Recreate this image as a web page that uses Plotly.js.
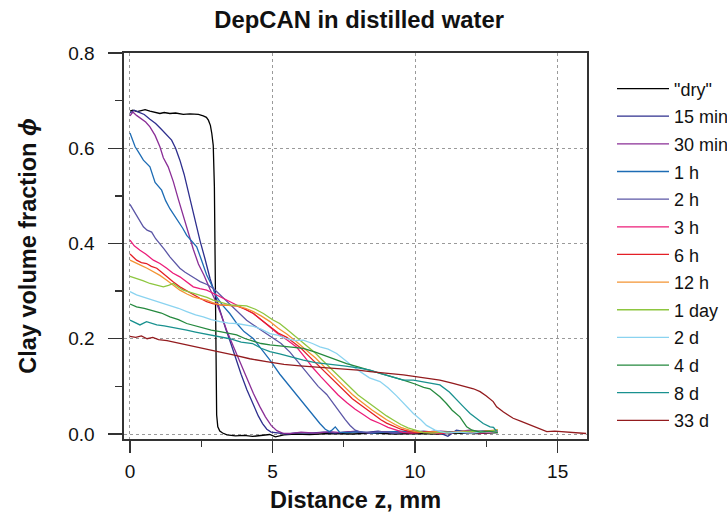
<!DOCTYPE html>
<html>
<head>
<meta charset="utf-8">
<script src="https://cdn.plot.ly/plotly-3.0.1.min.js"></script>
<style>html,body{margin:0;padding:0;background:#fff;}#chart{width:727px;height:513px;}</style>
</head>
<body>
<div id="chart"></div>
<script>
// ---- Data ----
var seriesNames = ['"dry"', '15 min', '30 min', '1 h', '2 h', '3 h', '6 h', '12 h', '1 day', '2 d', '4 d', '8 d', '33 d'];
var seriesColors = ['#000000', '#2e2f8e', '#8a2e96', '#1d6cb4', '#5b56a6', '#ec1c79', '#e41f26', '#f39433', '#8dc63f', '#8ad3f0', '#25893e', '#19918f', '#931b1e'];

var xDry = [0,0.1,0.25,0.4,0.53,0.7,0.85,1.05,1.2,1.4,1.6,1.87,2.1,2.4,2.57,2.68,2.75,2.82,2.87,2.92,2.96,2.99,3.01,3.04,3.08,3.15,3.25,3.4,3.7,4.0,4.3,4.6,4.9,5.1,5.4,5.8,6.3,7.0,7.8,8.5,9.3,10.0,10.8,11.5,12.2,12.9];
var yDry = [0.678,0.68,0.677,0.679,0.681,0.678,0.676,0.673,0.675,0.673,0.674,0.671,0.672,0.671,0.668,0.665,0.659,0.648,0.631,0.606,0.52,0.35,0.15,0.04,0.015,0.006,0.002,-0.002,-0.004,-0.003,-0.005,-0.003,-0.001,-0.006,-0.002,0.0,-0.001,0.001,0.0,0.002,0.0,0.001,0.0,0.002,0.001,0.003];

var x15m = [0,0.15,0.3,0.5,0.7,0.9,1.1,1.3,1.46,1.6,1.75,1.9,2.03,2.16,2.3,2.46,2.63,2.81,3.0,3.2,3.35,3.5,3.7,3.9,4.1,4.3,4.5,4.65,4.8,4.95,5.2,5.5,5.9,6.3,6.8,7.2,7.7,8.2,8.7,9.2,9.7,10.2,10.7,11.15,11.45,11.9,12.4,12.9];
var y15m = [0.674,0.68,0.676,0.671,0.661,0.652,0.64,0.628,0.617,0.6,0.575,0.545,0.512,0.478,0.445,0.405,0.368,0.326,0.29,0.25,0.222,0.197,0.16,0.125,0.093,0.064,0.038,0.022,0.01,0.004,0.002,0.0,0.003,0.002,0.004,0.002,0.005,0.003,0.006,0.002,0.004,0.003,0.006,-0.005,0.008,0.004,0.006,0.005];

var x30m = [0,0.1,0.23,0.41,0.55,0.7,0.88,1.05,1.17,1.34,1.52,1.7,1.87,2.04,2.22,2.4,2.6,2.8,3.0,3.2,3.39,3.62,3.86,4.1,4.33,4.55,4.75,4.95,5.15,5.35,5.6,6.0,6.5,7.0,7.4,7.9,8.4,8.9,9.4,9.9,10.4,10.9,11.4,11.9,12.4,12.9];
var y30m = [0.668,0.676,0.669,0.662,0.655,0.645,0.627,0.603,0.58,0.561,0.53,0.492,0.458,0.422,0.388,0.357,0.333,0.305,0.28,0.25,0.218,0.185,0.15,0.115,0.085,0.058,0.036,0.018,0.007,0.002,0.001,0.004,0.002,0.005,0.003,0.006,0.002,0.005,0.004,0.007,0.003,0.006,0.004,0.008,0.005,0.007];

var x1h = [0,0.1,0.18,0.3,0.47,0.7,0.88,1.11,1.25,1.4,1.55,1.7,1.85,1.99,2.15,2.34,2.51,2.69,2.92,3.04,3.25,3.5,3.75,4.0,4.33,4.6,4.91,5.25,5.61,5.9,6.2,6.45,6.66,6.85,7.0,7.1,7.2,7.35,7.6,8.0,8.5,9.0,9.5,10.0,10.5,11.0,11.5,12.0,12.5,12.9];
var y1h = [0.632,0.618,0.603,0.592,0.575,0.561,0.528,0.512,0.49,0.473,0.46,0.445,0.432,0.417,0.405,0.393,0.365,0.334,0.306,0.288,0.27,0.253,0.232,0.215,0.2,0.18,0.155,0.126,0.099,0.078,0.057,0.037,0.022,0.01,0.005,0.009,0.015,0.004,0.003,0.005,0.002,0.004,0.006,0.003,0.005,0.002,0.006,0.004,0.007,0.004];

var x2h = [0,0.12,0.3,0.47,0.6,0.76,0.9,1.05,1.2,1.4,1.58,1.75,1.92,2.1,2.3,2.46,2.7,2.92,3.2,3.5,3.8,4.09,4.5,4.91,5.3,5.61,5.85,6.1,6.31,6.6,6.9,7.13,7.37,7.55,7.72,7.9,8.1,8.4,8.8,9.3,9.8,10.3,10.8,11.3,11.8,12.3,12.9];
var y2h = [0.482,0.47,0.45,0.435,0.428,0.424,0.41,0.4,0.388,0.372,0.36,0.348,0.34,0.334,0.326,0.32,0.314,0.306,0.29,0.274,0.256,0.239,0.222,0.206,0.19,0.172,0.155,0.135,0.12,0.1,0.083,0.064,0.045,0.03,0.018,0.008,0.004,0.003,0.005,0.002,0.004,0.006,0.003,0.005,0.002,0.004,0.006];

var x3h = [0,0.15,0.35,0.55,0.82,1.05,1.29,1.5,1.75,2.0,2.22,2.45,2.69,2.9,3.16,3.45,3.74,4.05,4.33,4.6,4.91,5.2,5.5,5.85,6.15,6.43,6.7,7.0,7.3,7.6,7.9,8.18,8.45,8.77,9.05,9.35,9.6,9.9,10.3,10.8,11.3,11.8,12.3,12.9];
var y3h = [0.407,0.395,0.386,0.378,0.365,0.358,0.348,0.338,0.33,0.318,0.309,0.305,0.302,0.296,0.288,0.28,0.271,0.262,0.253,0.24,0.225,0.21,0.198,0.182,0.16,0.138,0.12,0.1,0.082,0.066,0.052,0.041,0.03,0.022,0.014,0.008,0.003,0.002,0.004,0.001,0.003,0.005,0.002,0.004];

var x6h = [0,0.1,0.23,0.4,0.58,0.75,0.94,1.1,1.29,1.5,1.75,2.0,2.22,2.45,2.69,2.9,3.16,3.45,3.74,4.05,4.33,4.6,4.91,5.2,5.5,5.8,6.0,6.3,6.5,6.8,7.0,7.3,7.5,7.8,8.0,8.3,8.5,8.8,9.0,9.3,9.5,9.8,10.1,10.5,11.0,11.5,12.0,12.5,12.9];
var y6h = [0.378,0.372,0.365,0.36,0.358,0.352,0.348,0.34,0.33,0.32,0.309,0.3,0.292,0.285,0.278,0.274,0.271,0.27,0.269,0.262,0.253,0.24,0.225,0.212,0.203,0.19,0.18,0.162,0.15,0.132,0.12,0.103,0.09,0.074,0.065,0.052,0.042,0.03,0.023,0.015,0.01,0.005,0.003,0.005,0.002,0.004,0.003,0.006,0.004];

var x12h = [0,0.15,0.35,0.6,0.82,1.05,1.29,1.5,1.75,2.0,2.22,2.45,2.69,2.9,3.16,3.45,3.74,4.05,4.33,4.6,4.91,5.2,5.5,5.8,6.0,6.3,6.5,6.8,7.0,7.3,7.5,7.8,8.0,8.3,8.5,8.8,9.0,9.3,9.5,9.8,10.0,10.3,10.7,11.2,11.7,12.2,12.6,12.9];
var y12h = [0.365,0.36,0.355,0.348,0.341,0.333,0.323,0.313,0.302,0.294,0.288,0.284,0.281,0.276,0.271,0.27,0.269,0.264,0.257,0.248,0.236,0.222,0.21,0.196,0.185,0.17,0.16,0.143,0.13,0.112,0.1,0.083,0.073,0.058,0.05,0.038,0.03,0.02,0.014,0.008,0.005,0.003,0.005,0.003,0.006,0.004,0.007,0.009];

var x1d = [0,0.23,0.45,0.7,0.95,1.17,1.35,1.52,1.7,1.87,2.15,2.46,2.7,2.92,3.2,3.5,3.8,4.09,4.4,4.68,5.0,5.25,5.5,5.75,6.0,6.25,6.5,6.75,7.0,7.25,7.5,7.75,8.0,8.25,8.5,8.75,9.0,9.25,9.5,9.75,10.0,10.3,10.6,11.0,11.5,12.0,12.5,12.9];
var y1d = [0.331,0.327,0.322,0.316,0.312,0.309,0.312,0.316,0.308,0.302,0.297,0.292,0.287,0.281,0.276,0.271,0.27,0.269,0.262,0.253,0.24,0.232,0.22,0.208,0.195,0.183,0.17,0.155,0.14,0.125,0.11,0.096,0.082,0.071,0.06,0.049,0.038,0.029,0.02,0.013,0.008,0.003,0.002,0.004,0.003,0.006,0.005,0.008];

var x2d = [0,0.23,0.5,0.82,1.1,1.4,1.7,1.99,2.3,2.57,2.85,3.16,3.45,3.74,4.05,4.33,4.6,4.91,5.2,5.5,5.8,6.08,6.4,6.66,6.95,7.25,7.55,7.83,8.1,8.4,8.77,9.05,9.35,9.65,9.94,10.2,10.4,10.7,11.1,11.5,12.0,12.5,12.9];
var y2d = [0.299,0.292,0.287,0.281,0.276,0.271,0.264,0.257,0.25,0.246,0.24,0.236,0.233,0.232,0.229,0.226,0.22,0.211,0.207,0.2,0.196,0.197,0.19,0.183,0.178,0.169,0.155,0.141,0.13,0.118,0.11,0.097,0.08,0.062,0.043,0.03,0.018,0.008,0.002,0.004,0.002,0.005,0.004];

var x4d = [0,0.23,0.5,0.82,1.1,1.4,1.7,1.99,2.3,2.57,2.85,3.16,3.45,3.74,4.05,4.33,4.6,4.91,5.3,5.7,6.08,6.5,6.9,7.25,7.6,8.0,8.42,8.8,9.2,9.59,10.0,10.3,10.52,10.7,10.87,11.1,11.3,11.57,11.7,11.81,12.0,12.28,12.6,12.9];
var y4d = [0.273,0.267,0.264,0.259,0.254,0.246,0.24,0.232,0.227,0.222,0.218,0.215,0.211,0.208,0.2,0.195,0.19,0.187,0.185,0.183,0.18,0.172,0.163,0.155,0.148,0.141,0.134,0.127,0.12,0.113,0.105,0.098,0.095,0.087,0.078,0.064,0.05,0.036,0.025,0.015,0.008,0.004,0.006,0.003];

var x8d = [0,0.12,0.35,0.58,0.94,1.2,1.4,1.7,1.99,2.3,2.57,2.85,3.16,3.5,3.9,4.3,4.6,4.91,5.25,5.61,6.08,6.5,7.0,7.5,8.0,8.42,8.8,9.2,9.59,9.94,10.4,10.87,11.2,11.46,11.7,11.93,12.15,12.39,12.63,12.75,12.8,12.86];
var y8d = [0.239,0.236,0.229,0.236,0.229,0.227,0.225,0.222,0.218,0.214,0.211,0.207,0.204,0.2,0.193,0.19,0.18,0.173,0.168,0.162,0.155,0.15,0.147,0.143,0.139,0.134,0.127,0.12,0.113,0.113,0.108,0.103,0.088,0.071,0.057,0.043,0.032,0.022,0.015,0.014,0.01,0.006];

var x33d = [0,0.2,0.4,0.6,0.8,1.0,1.3,1.6,2.0,2.46,3.0,3.62,4.2,4.79,5.4,5.96,6.5,7.0,7.5,8.0,8.42,9.0,9.59,10.2,10.87,11.3,11.81,12.05,12.28,12.5,12.74,12.86,13.1,13.44,13.7,14.03,14.3,14.62,14.9,15.2,15.5,15.8,16.0];
var y33d = [0.205,0.203,0.206,0.2,0.203,0.198,0.196,0.192,0.186,0.18,0.174,0.166,0.158,0.152,0.146,0.143,0.141,0.139,0.136,0.134,0.131,0.128,0.124,0.119,0.113,0.107,0.099,0.095,0.089,0.08,0.068,0.057,0.046,0.033,0.027,0.019,0.012,0.005,0.006,0.005,0.004,0.003,0.001];

var seriesX = [xDry, x15m, x30m, x1h, x2h, x3h, x6h, x12h, x1d, x2d, x4d, x8d, x33d];
var seriesY = [yDry, y15m, y30m, y1h, y2h, y3h, y6h, y12h, y1d, y2d, y4d, y8d, y33d];

var FONT = '"Liberation Sans", Arial, Helvetica, sans-serif';

var traces = seriesNames.map(function (name, i) {
  return {
    type: 'scatter', mode: 'lines', name: name,
    x: seriesX[i], y: seriesY[i],
    legendgroup: 'g' + i,
    line: {color: seriesColors[i], width: 1.3}
  };
});

var axisCommon = {
  showline: true, mirror: true, linecolor: '#333', linewidth: 1.6,
  ticks: 'outside', tickcolor: '#333', tickwidth: 1.3,
  showgrid: true, gridcolor: '#9a9a9a', griddash: 'dot', gridwidth: 1,
  zeroline: false,
  tickfont: {family: FONT, size: 19, color: '#111'}
};

var layout = {
  width: 727, height: 513,
  margin: {l: 124, r: 140, t: 53, b: 74, pad: 0, autoexpand: false},
  paper_bgcolor: '#fff', plot_bgcolor: '#fff',
  font: {family: FONT, color: '#111'},
  title: {text: 'DepCAN in distilled water', font: {family: FONT, size: 23.8, weight: 700, color: '#111'},
          x: 0.494, xref: 'container', y: 0.962, yref: 'container', yanchor: 'middle'},
  xaxis: Object.assign({}, axisCommon, {
    range: [-0.21, 16.03], tick0: 0, dtick: 5, ticklen: 12, ticklabelstandoff: 3,
    minor: {dtick: 2.5, ticks: 'outside', ticklen: 6, tickwidth: 1.3, tickcolor: '#333', showgrid: false},
    title: {text: 'Distance z, mm', font: {family: FONT, size: 23.5, weight: 700, color: '#111'}, standoff: 16}
  }),
  yaxis: Object.assign({}, axisCommon, {
    range: [-0.0105, 0.8], tick0: 0, dtick: 0.2, tickformat: '.1f', ticklen: 14, ticklabelstandoff: 10,
    minor: {dtick: 0.1, ticks: 'outside', ticklen: 7, tickwidth: 1.3, tickcolor: '#333', showgrid: false},
    title: {text: 'Clay volume fraction <i>ϕ</i>', font: {family: FONT, size: 23.5, weight: 700, color: '#111'}, standoff: 25}
  }),
  showlegend: true,
  legend: {
    x: 1.054, xanchor: 'left', y: 0.955, yanchor: 'top',
    font: {family: FONT, size: 18, color: '#111'},
    bgcolor: 'rgba(0,0,0,0)', borderwidth: 0,
    tracegroupgap: 1.25, itemwidth: 52, traceorder: 'grouped'
  }
};

Plotly.newPlot('chart', traces, layout, {displayModeBar: false, staticPlot: true});
</script>
</body>
</html>
